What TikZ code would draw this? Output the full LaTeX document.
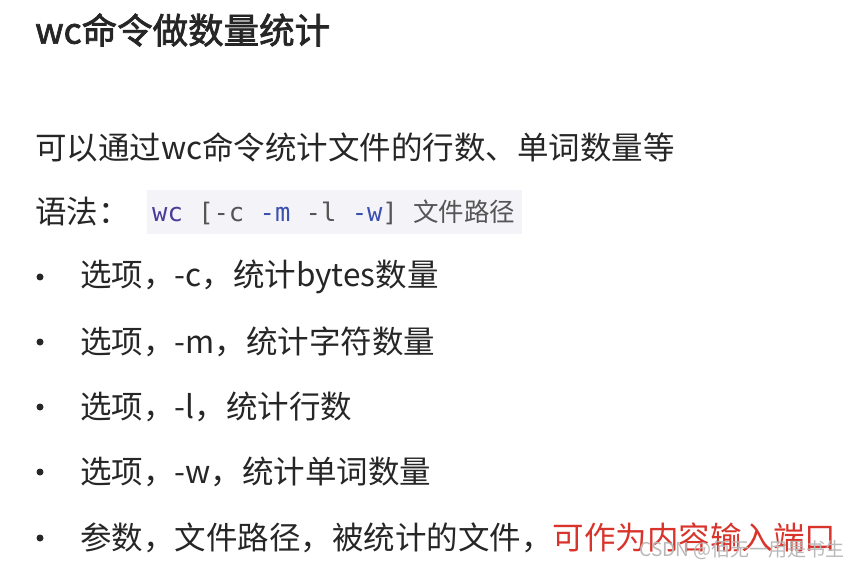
\documentclass[tikz,border=0pt]{standalone}
\usepackage{fontspec}
\setmainfont{Noto Sans CJK SC}
\newfontfamily\cjkb{Noto Sans CJK SC}[FakeBold=2]
\setmonofont{DejaVu Sans Mono}
\definecolor{txt}{HTML}{262626}
\definecolor{kw}{HTML}{4B3A99}
\definecolor{op}{HTML}{3A4FB0}
\definecolor{gr}{HTML}{555555}
\definecolor{red1}{HTML}{D9342B}
\begin{document}
\begin{tikzpicture}[x=1pt,y=-1pt,
  body/.style={anchor=west,inner sep=0pt,text=txt,font=\fontsize{31.5}{36}\selectfont},
  dot/.style={circle,fill=txt,inner sep=0pt,minimum size=7pt}]
\useasboundingbox[fill=white] (0,0) rectangle (859,569);
\node[anchor=west,inner sep=0pt,text=txt,font=\cjkb\fontsize{35.5}{40}\selectfont] (title) at (35,30) {wc命令做数量统计};
\node[body] (intro) at (35,147) {可以通过wc命令统计文件的行数、单词数量等};
\node[body] (syn) at (35,212) {语法：};
\fill[fill={rgb,255:red,244;green,244;blue,248}] (147,190) rectangle (522,234);
\node[anchor=west,inner sep=0pt,font=\ttfamily\fontsize{25.5}{30}\selectfont] (code) at (152,212)
 {\textcolor{kw}{wc} \textcolor{gr}{[-c} \textcolor{op}{-m} \textcolor{gr}{-l} \textcolor{op}{-w}\textcolor{gr}{]} \textcolor{gr}{\rmfamily 文件路径}};
\foreach \y/\t [count=\i] in {277/{选项，-c，统计bytes数量},342/{选项，-m，统计字符数量},407/{选项，-l，统计行数},472/{选项，-w，统计单词数量}}{
  \node[dot] (d\i) at (40,\y) {};
  \node[body] (b\i) at (80,\y) {\t};
}
\node[dot] (d5) at (40,538) {};
\node[body] (b5) at (80,538) {参数，文件路径，被统计的文件，\textcolor{red1}{可作为内容输入端口}};
\node[anchor=east,inner sep=0pt,text=gray!55,font=\fontsize{19}{22}\selectfont] (wm) at (845,550) {CSDN @佰无一用是书生};
\end{tikzpicture}
\end{document}
